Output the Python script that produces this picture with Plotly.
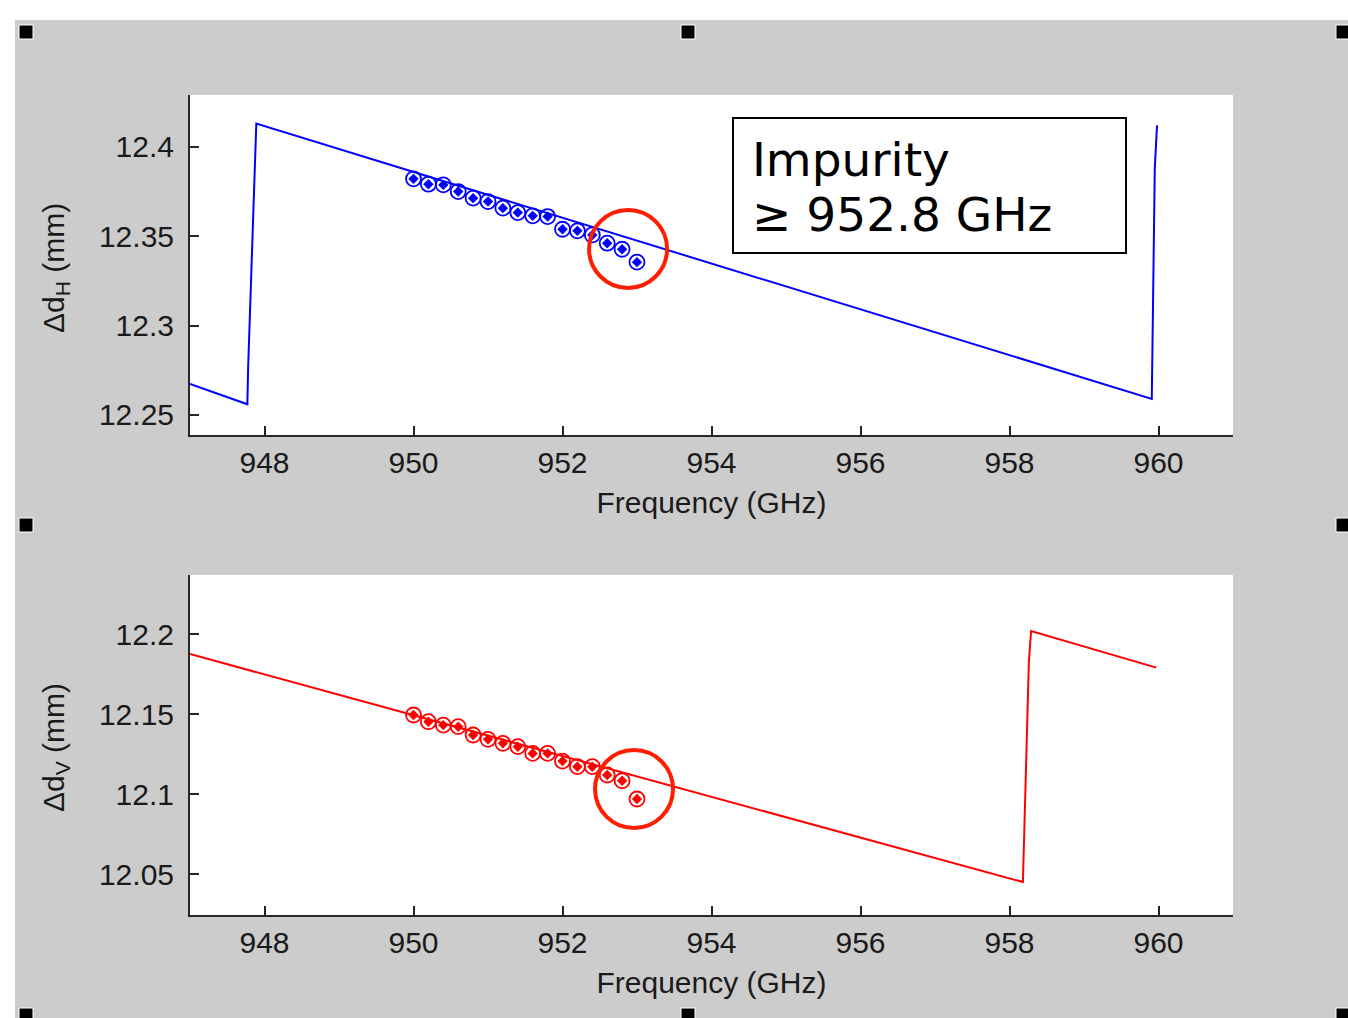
import plotly.graph_objects as go

# ---------------- data ----------------
# top panel: Δd_H sawtooth line
line_h_freq = [947.0, 947.77, 947.78, 947.89, 959.91, 959.95, 959.98]
line_h_val = [12.2674, 12.256, 12.276, 12.413, 12.259, 12.388, 12.412]

# bottom panel: Δd_V sawtooth line
line_v_freq = [947.0, 958.18, 958.26, 958.29, 959.97]
line_v_val = [12.1875, 12.045, 12.1825, 12.2019, 12.179]

# measured points
meas_freq = [950.0, 950.2, 950.4, 950.6, 950.8, 951.0, 951.2, 951.4,
             951.6, 951.8, 952.0, 952.2, 952.4, 952.6, 952.8, 953.0]
meas_dh = [12.3821, 12.3791, 12.3787, 12.3750, 12.3713, 12.3694, 12.3657, 12.3632,
           12.3614, 12.3610, 12.3539, 12.3530, 12.3507, 12.3461, 12.3427, 12.3355]
meas_dv = [12.1494, 12.1452, 12.1431, 12.1421, 12.1369, 12.1342, 12.1317, 12.1296,
           12.1254, 12.1254, 12.1206, 12.1171, 12.1171, 12.1119, 12.1083, 12.0969]

x_ticks = [948, 950, 952, 954, 956, 958, 960]
x_ticktext = ["948", "950", "952", "954", "956", "958", "960"]
yh_ticks = [12.25, 12.3, 12.35, 12.4]
yh_ticktext = ["12.25", "12.3", "12.35", "12.4"]
yv_ticks = [12.05, 12.1, 12.15, 12.2]
yv_ticktext = ["12.05", "12.1", "12.15", "12.2"]

# highlighted (impurity) points
circ_h = (952.88, 12.3429)
circ_v = (952.96, 12.1031)

# ---------------- layout helpers ----------------
W, H = 1348, 1018


def px(x):
    return x / W


def py(y):
    return 1 - y / H


BLUE = "rgb(0,0,255)"
RED = "rgb(255,0,0)"
AXC = "#262626"
TICKFONT = dict(family="Liberation Sans, Arial, sans-serif", size=30, color="#1a1a1a")

fig = go.Figure()

# top panel
fig.add_trace(go.Scatter(x=line_h_freq, y=line_h_val, mode="lines",
                         line=dict(color=BLUE, width=2), xaxis="x", yaxis="y",
                         showlegend=False, hoverinfo="skip"))
fig.add_trace(go.Scatter(x=meas_freq, y=meas_dh, mode="markers",
                         marker=dict(symbol="circle-open", size=15, color=BLUE,
                                     line=dict(width=1.8, color=BLUE)),
                         xaxis="x", yaxis="y", showlegend=False))
fig.add_trace(go.Scatter(x=meas_freq, y=meas_dh, mode="markers",
                         marker=dict(symbol="diamond", size=8, color=BLUE),
                         xaxis="x", yaxis="y", showlegend=False))

# bottom panel
fig.add_trace(go.Scatter(x=line_v_freq, y=line_v_val, mode="lines",
                         line=dict(color=RED, width=2), xaxis="x2", yaxis="y2",
                         showlegend=False, hoverinfo="skip"))
fig.add_trace(go.Scatter(x=meas_freq, y=meas_dv, mode="markers",
                         marker=dict(symbol="circle-open", size=15, color=RED,
                                     line=dict(width=1.8, color=RED)),
                         xaxis="x2", yaxis="y2", showlegend=False))
fig.add_trace(go.Scatter(x=meas_freq, y=meas_dv, mode="markers",
                         marker=dict(symbol="diamond", size=8, color=RED),
                         xaxis="x2", yaxis="y2", showlegend=False))

xdom = [px(190), px(1233)]
common_x = dict(range=[947, 961], showline=True, linecolor=AXC, linewidth=2,
                ticks="inside", ticklen=9, tickwidth=2, tickcolor=AXC,
                showgrid=False, zeroline=False, tickvals=x_ticks, ticktext=x_ticktext,
                tickfont=TICKFONT, domain=xdom,
                title=dict(text="Frequency (GHz)", font=TICKFONT, standoff=14))
common_y = dict(showline=True, linecolor=AXC, linewidth=2, ticks="inside",
                ticklen=9, tickwidth=2, tickcolor=AXC, showgrid=False,
                zeroline=False, tickfont=TICKFONT, ticklabelstandoff=8)

fig.update_layout(
    width=W, height=H,
    margin=dict(l=0, r=0, t=0, b=0),
    paper_bgcolor="#cccccc",
    plot_bgcolor="white",
    xaxis=dict(common_x, anchor="y"),
    yaxis=dict(common_y, range=[12.2388, 12.429], tickvals=yh_ticks,
               ticktext=yh_ticktext, domain=[py(435), py(95)], anchor="x"),
    xaxis2=dict(common_x, anchor="y2"),
    yaxis2=dict(common_y, range=[12.0244, 12.2369], tickvals=yv_ticks,
                ticktext=yv_ticktext, domain=[py(915), py(575)], anchor="x2"),
)

shapes = []
# white page margins outside the grey canvas
shapes.append(dict(type="rect", xref="paper", yref="paper", x0=0, x1=1,
                   y0=py(20), y1=1, fillcolor="white", line=dict(width=0), layer="above"))
shapes.append(dict(type="rect", xref="paper", yref="paper", x0=0, x1=px(15),
                   y0=0, y1=1, fillcolor="white", line=dict(width=0), layer="above"))
# selection handles
for hx, hy in [(26, 32), (688, 32), (1343, 32), (26, 525), (1343, 525),
               (26, 1015), (688, 1015), (1343, 1015)]:
    shapes.append(dict(type="rect", xref="paper", yref="paper",
                       x0=px(hx - 7), x1=px(hx + 7), y0=py(hy + 7), y1=py(hy - 7),
                       fillcolor="black", line=dict(color="white", width=1), layer="above"))
# red highlight circles
for (cx, cy), xr, yr in [(circ_h, "x", "y"), (circ_v, "x2", "y2")]:
    shapes.append(dict(type="circle", xref=xr, yref=yr, xsizemode="pixel",
                       ysizemode="pixel", xanchor=cx, yanchor=cy,
                       x0=-39, x1=39, y0=-39, y1=39,
                       line=dict(color="rgb(255,30,0)", width=4), layer="above"))
# text box
shapes.append(dict(type="rect", xref="paper", yref="paper",
                   x0=px(733), x1=px(1126), y0=py(253), y1=py(118),
                   fillcolor="white", line=dict(color="black", width=2), layer="above"))

BOXFONT = dict(family="DejaVu Sans, Verdana, sans-serif", size=47, color="black")
annotations = [
    dict(text="Impurity", xref="paper", yref="paper", x=px(750), y=py(160),
         xanchor="left", yanchor="middle", showarrow=False, font=BOXFONT),
    dict(text="\u2265 952.8 GHz", xref="paper", yref="paper", x=px(750), y=py(215),
         xanchor="left", yanchor="middle", showarrow=False, font=BOXFONT),
    dict(text="\u0394d<sub>H</sub> (mm)", xref="paper", yref="paper", x=px(55), y=py(268),
         xanchor="center", yanchor="middle", textangle=-90, showarrow=False, font=TICKFONT),
    dict(text="\u0394d<sub>V</sub> (mm)", xref="paper", yref="paper", x=px(55), y=py(748),
         xanchor="center", yanchor="middle", textangle=-90, showarrow=False, font=TICKFONT),
]

fig.update_layout(shapes=shapes, annotations=annotations)

fig.write_html("out.html", config={"displayModeBar": False},
               post_script="document.body.style.margin='0';document.body.style.overflow='hidden';")
